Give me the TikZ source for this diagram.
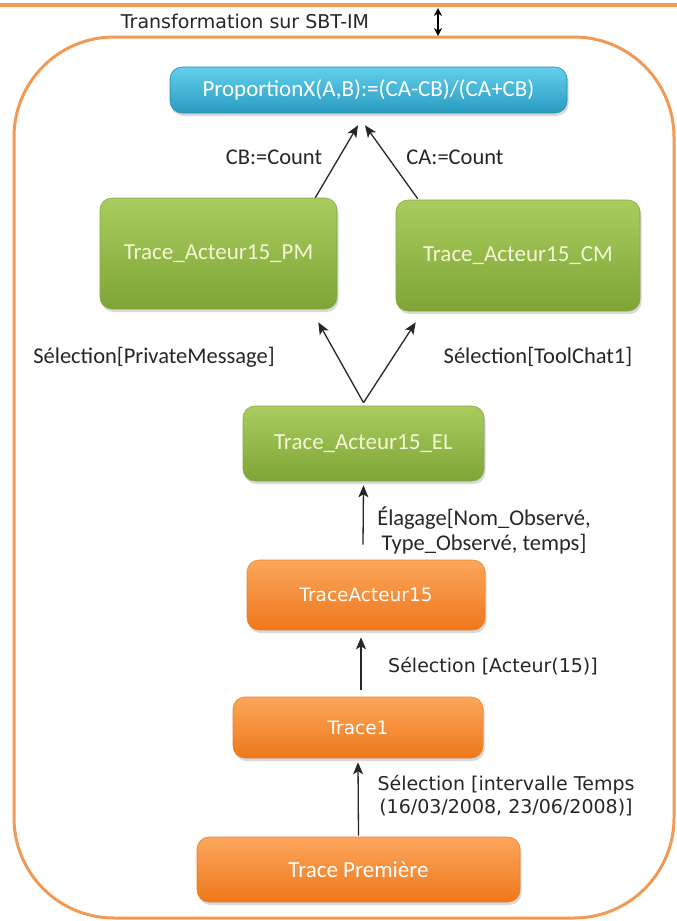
\documentclass[tikz,border=0pt]{standalone}
\usepackage{fontspec}
\setmainfont{Carlito}
\newfontfamily\verdfont{DejaVu Sans}
\usepackage{tikz}
\usetikzlibrary{calc, arrows.meta, shadows}

\definecolor{frameorange}{HTML}{F09A55}
\definecolor{bluetop}{HTML}{62CFEC}
\definecolor{bluebot}{HTML}{2A9BC0}
\definecolor{blueline}{HTML}{2A8CAE}
\definecolor{greentop}{HTML}{AACC5E}
\definecolor{greenbot}{HTML}{7EA535}
\definecolor{greenline}{HTML}{86A845}
\definecolor{greentext}{HTML}{F4F8D8}
\definecolor{orangetop}{HTML}{FCA65C}
\definecolor{orangebot}{HTML}{EE781A}
\definecolor{orangeline}{HTML}{E8822E}

\tikzset{
    box/.style={rounded corners=12pt, inner sep=0pt, line width=0.6pt,
        drop shadow={shadow xshift=1.5pt, shadow yshift=-3pt, opacity=0.3},
        font=\fontsize{23}{25}\selectfont},
    bluebox/.style={box, top color=bluetop, bottom color=bluebot, draw=blueline, text=white},
    greenbox/.style={box, top color=greentop, bottom color=greenbot, draw=greenline, text=greentext},
    orangebox/.style={box, top color=orangetop, bottom color=orangebot, draw=orangeline, text=white},
    verd/.style={font=\verdfont\fontsize{18.5}{23}\selectfont},
    flow/.style={-{Stealth[length=12pt,width=10pt,inset=3pt]}, line width=1.3pt, black!85},
    lbl/.style={font=\fontsize{22.5}{25}\selectfont, text=black!85},
    vlbl/.style={font=\verdfont\fontsize{19}{23}\selectfont, text=black!85, align=center},
}

\begin{document}
\begin{tikzpicture}[x=1pt, y=-1pt]
    \useasboundingbox (0,0) rectangle (677,921);

    % frame of the transformation
    \draw[frameorange, line width=4pt] (0,5) -- (677,5);
    \draw[frameorange, line width=3pt, rounded corners=100pt] (14,37) rectangle (674,918);
    \coordinate (gaptop) at (438,8);
    \coordinate (gapbot) at (438,36);
    \draw[{Stealth[length=8pt,width=8pt]}-{Stealth[length=8pt,width=8pt]}, line width=1.3pt]
        (gaptop) -- (gapbot);
    \node[vlbl] (title) at (245,21) {Transformation sur SBT-IM};

    % traces
    \node[bluebox, minimum width=397pt, minimum height=46pt] (prop) at (368.5,90)
        {ProportionX(A,B):=(CA-CB)/(CA+CB)};
    \node[greenbox, minimum width=237pt, minimum height=111pt] (pm) at (218.5,253.5)
        {Trace\_Acteur15\_PM};
    \node[greenbox, minimum width=244pt, minimum height=111pt] (cm) at (518,255.5)
        {Trace\_Acteur15\_CM};
    \node[greenbox, minimum width=241pt, minimum height=75pt] (el) at (363.5,443.5)
        {Trace\_Acteur15\_EL};
    \node[orangebox, verd, minimum width=238pt, minimum height=70pt] (ta) at (366,595)
        {TraceActeur15};
    \node[orangebox, verd, minimum width=250pt, minimum height=61pt] (t1) at (358,727.5)
        {Trace1};
    \node[orangebox, minimum width=323pt, minimum height=65pt] (tp) at (358.5,869.5)
        {Trace Première};

    % operations
    \draw[flow] ($(tp.north)+(0,-1)$) -- ($(t1.south)+(0,4)$);
    \draw[flow] ($(t1.north)+(3,-7)$) -- ($(ta.south)+(-5,7)$);
    \draw[flow] ($(ta.north)+(-3,-15)$) -- ($(el.south)+(0,4)$);
    \draw[flow] ($(el.north)+(0,-3)$) -- ($(pm.south east)+(-19,13)$);
    \draw[flow] ($(el.north)+(0,-3)$) -- ($(cm.south west)+(20,11)$);
    \draw[flow] ($(pm.north east)+(-22,0)$) -- ($(prop.south)+(-10.5,12)$);
    \draw[flow] ($(cm.north west)+(22,-1)$) -- ($(prop.south)+(-3.5,12)$);

    \node[lbl] (cb) at (274,157) {CB:=Count};
    \node[lbl] (ca) at (455,157) {CA:=Count};
    \node[lbl] (selpm) at (154,357) {Sélection[PrivateMessage]};
    \node[lbl] (selcm) at (538,357) {Sélection[ToolChat1]};
    \node[lbl, align=center] (elag) at (484,530)
        {Élagage[Nom\_Observé,\\Type\_Observé, temps]};
    \node[vlbl] (selact) at (493,666) {Sélection [Acteur(15)]};
    \node[vlbl] (seltime) at (506,796)
        {Sélection [intervalle Temps\\ (16/03/2008, 23/06/2008)]};
\end{tikzpicture}
\end{document}
